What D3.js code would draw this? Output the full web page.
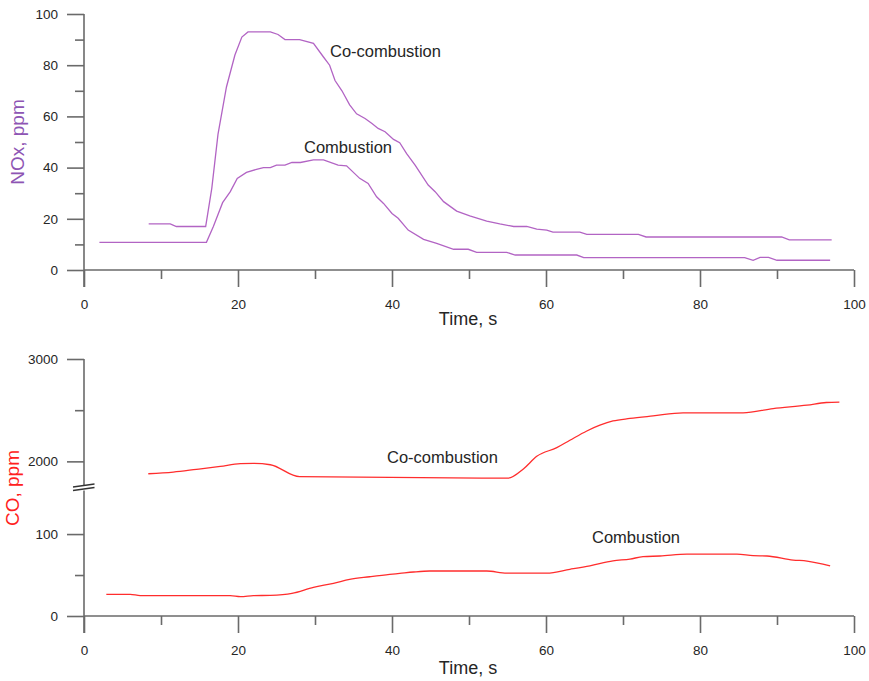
<!DOCTYPE html>
<html><head><meta charset="utf-8">
<script src="https://cdn.jsdelivr.net/npm/d3@7"></script>
<style>
body{margin:0;background:#fff;}
svg text{font-family:"Liberation Sans",Arial,sans-serif;fill:#262626;}
</style></head>
<body><svg id="c" width="869" height="681"></svg>
<script>
// ---------- DATA ----------
const noxCoT = [8.4,11.2,12,15.8,16.6,17.4,18.5,19.6,20.5,21.3,24.2,25.2,26.1,28,29.8,31.1,31.9,32.6,33.5,34.5,35.4,36.5,37.4,38.2,39.1,40.2,41,41.9,43,44.7,45.6,46.7,48.4,50.1,52.3,54,55.8,57.5,58.8,60.1,60.9,64.4,65.3,72,73,90.6,91.6,97.1];
const noxCoV = [18,18,17,17,32,53,71.5,84,91,93,93,92,90,90,88.5,83.2,80,74,70,64.5,61,59.2,57.2,55.3,54,51,49.7,45.5,41,33.2,30.6,26.7,23,21.1,19.1,18,17,17,16,15.6,14.8,14.8,13.9,13.9,12.9,12.9,11.8,11.8];
const noxCbT = [2,15.9,16.8,18,19,19.9,21.1,22.4,23.3,24.2,25,26.1,27,28.1,29.8,31.1,33,34.1,35.8,36.9,38,38.9,40,40.8,42.1,44.1,45.8,48,49.9,51,54.9,56,64,64.9,85.8,86.9,87.8,88.9,90,96.9];
const noxCbV = [10.8,10.8,17,26.3,30.6,35.8,38.1,39.3,40,40,41,41,42,42,43,43,41,40.7,35.8,33.8,28.6,26,22.1,20.2,15.6,12,10.4,8.1,8.1,6.9,6.9,5.85,5.85,4.8,4.8,3.8,4.9,4.9,3.8,3.8];
const coCoT = [8.35,11.6,14.6,17.7,20.3,22,24.2,28,55.1,57.1,58.8,61.4,63.1,65.3,67,68.7,70.9,73.9,77.8,85.6,89.5,93.9,96.4,98.1];
const coCoV = [1879,1895,1922,1951,1977,1980,1967,1850,1837,1928,2049,2134,2206,2297,2353,2395,2419,2444,2474,2474,2516,2549,2575,2578];
const coCbT = [2.9,6,7.3,19,20.3,22,24.2,27,29.8,32.4,34.5,37.1,39.7,41,42.8,44.9,47.5,52.3,54.9,60.1,63.1,65.7,68.7,70.9,72.6,74.8,78.3,84.8,86.9,88.7,92.1,93.9,96.9];
const coCbV = [26.5,26.5,24.8,24.8,23.6,24.8,25.2,27.6,35,39.8,44.7,47.9,50.8,52,53.7,54.9,54.9,54.9,52.4,52.4,57,61.3,67.4,69.5,72.4,73.2,75.6,75.6,73.6,73.2,68.3,67.1,61.3];
const xTicksMajor = [0,20,40,60,80,100];
const xTicksMinor = [10,30,50,70,90];
const noxTicksMajor = [0,20,40,60,80,100];
const noxTicksMinor = [10,30,50,70,90];
const coHiTicksMajor = [2000,3000];
const coHiTicksMinor = [2500];
const coLoTicksMajor = [0,100];
const coLoTicksMinor = [50];
const labels = {co:"Co-combustion", cb:"Combustion", time:"Time, s", nox:"NOx, ppm", coAxis:"CO, ppm"};

// ---------- LAYOUT ----------
const svg = d3.select("#c");
const AX = "#6a6a6a", PURPLE = "#b264c4", PURPLE_T = "#8e55b4", RED = "#ff2d2d", RED_T = "#ff2020";
const x = d3.scaleLinear().domain([0,100]).range([84,854]);
const yN = d3.scaleLinear().domain([0,100]).range([270,14]);
const yHi = d3.scaleLinear().domain([1730,3000]).range([489,359]);
const yLo = d3.scaleLinear().domain([0,155]).range([616,489]);

function styleAxis(g){
  g.select(".domain").remove();
  g.selectAll("line").attr("stroke",AX).attr("stroke-width",1.6);
  g.selectAll("text").style("font-size","13.5px").attr("fill","#262626");
}
function xAxis(y0){
  const gM = svg.append("g").attr("transform",`translate(0,${y0})`)
    .call(d3.axisBottom(x).tickValues(xTicksMajor).tickSize(17).tickPadding(12.5).tickFormat(d3.format("d")));
  styleAxis(gM);
  const gm = svg.append("g").attr("transform",`translate(0,${y0})`)
    .call(d3.axisBottom(x).tickValues(xTicksMinor).tickSize(9).tickFormat(""));
  styleAxis(gm);
  svg.append("line").attr("x1",x(0)).attr("x2",x(100)).attr("y1",y0).attr("y2",y0).attr("stroke",AX).attr("stroke-width",1.6);
}
function yAxis(scale, major, minor){
  const gM = svg.append("g").attr("transform",`translate(${x(0)},0)`)
    .call(d3.axisLeft(scale).tickValues(major).tickSize(17).tickPadding(9).tickFormat(d3.format("d")));
  styleAxis(gM);
  const gm = svg.append("g").attr("transform",`translate(${x(0)},0)`)
    .call(d3.axisLeft(scale).tickValues(minor).tickSize(9).tickFormat(""));
  styleAxis(gm);
}

// ---------- TOP: NOx ----------
xAxis(yN(0));
yAxis(yN, noxTicksMajor, noxTicksMinor);
svg.append("line").attr("x1",x(0)).attr("x2",x(0)).attr("y1",yN(100)).attr("y2",yN(0)+17).attr("stroke",AX).attr("stroke-width",1.6);

const lineN = (T,V)=>d3.line().x((d,i)=>x(T[i])).y(d=>yN(d))(V);
svg.append("path").attr("d",lineN(noxCoT,noxCoV)).attr("fill","none").attr("stroke",PURPLE).attr("stroke-width",1.3);
svg.append("path").attr("d",lineN(noxCbT,noxCbV)).attr("fill","none").attr("stroke",PURPLE).attr("stroke-width",1.3);

svg.append("text").attr("x",330).attr("y",57).style("font-size","16.5px").text(labels.co);
svg.append("text").attr("x",304).attr("y",153).style("font-size","16.5px").text(labels.cb);
svg.append("text").attr("x",468).attr("y",325).attr("text-anchor","middle").style("font-size","18px").text(labels.time);
svg.append("text").attr("transform","translate(17,142) rotate(-90)").attr("text-anchor","middle")
  .attr("dominant-baseline","central").style("font-size","19px").style("fill",PURPLE_T).text(labels.nox);

// ---------- BOTTOM: CO (broken axis) ----------
xAxis(yLo(0));
yAxis(yHi, coHiTicksMajor, coHiTicksMinor);
yAxis(yLo, coLoTicksMajor, coLoTicksMinor);
svg.append("line").attr("x1",x(0)).attr("x2",x(0)).attr("y1",yHi(3000)).attr("y2",485.5).attr("stroke",AX).attr("stroke-width",1.6);
svg.append("line").attr("x1",x(0)).attr("x2",x(0)).attr("y1",490.5).attr("y2",yLo(0)+17).attr("stroke",AX).attr("stroke-width",1.6);
svg.append("line").attr("x1",73).attr("x2",94.5).attr("y1",487).attr("y2",484).attr("stroke","#333").attr("stroke-width",1.3);
svg.append("line").attr("x1",73).attr("x2",94.5).attr("y1",490.5).attr("y2",487.5).attr("stroke","#333").attr("stroke-width",1.3);

const lineHi = d3.line().x((d,i)=>x(coCoT[i])).y(d=>yHi(d)).curve(d3.curveMonotoneX);
const lineLo = d3.line().x((d,i)=>x(coCbT[i])).y(d=>yLo(d)).curve(d3.curveMonotoneX);
svg.append("path").attr("d",lineHi(coCoV)).attr("fill","none").attr("stroke",RED).attr("stroke-width",1.3);
svg.append("path").attr("d",lineLo(coCbV)).attr("fill","none").attr("stroke",RED).attr("stroke-width",1.3);

svg.append("text").attr("x",387).attr("y",462.5).style("font-size","16.5px").text(labels.co);
svg.append("text").attr("x",592).attr("y",543).style("font-size","16.5px").text(labels.cb);
svg.append("text").attr("x",468).attr("y",674).attr("text-anchor","middle").style("font-size","18px").text(labels.time);
svg.append("text").attr("transform","translate(12,488) rotate(-90)").attr("text-anchor","middle")
  .attr("dominant-baseline","central").style("font-size","19px").style("fill",RED_T).text(labels.coAxis);
</script></body></html>
